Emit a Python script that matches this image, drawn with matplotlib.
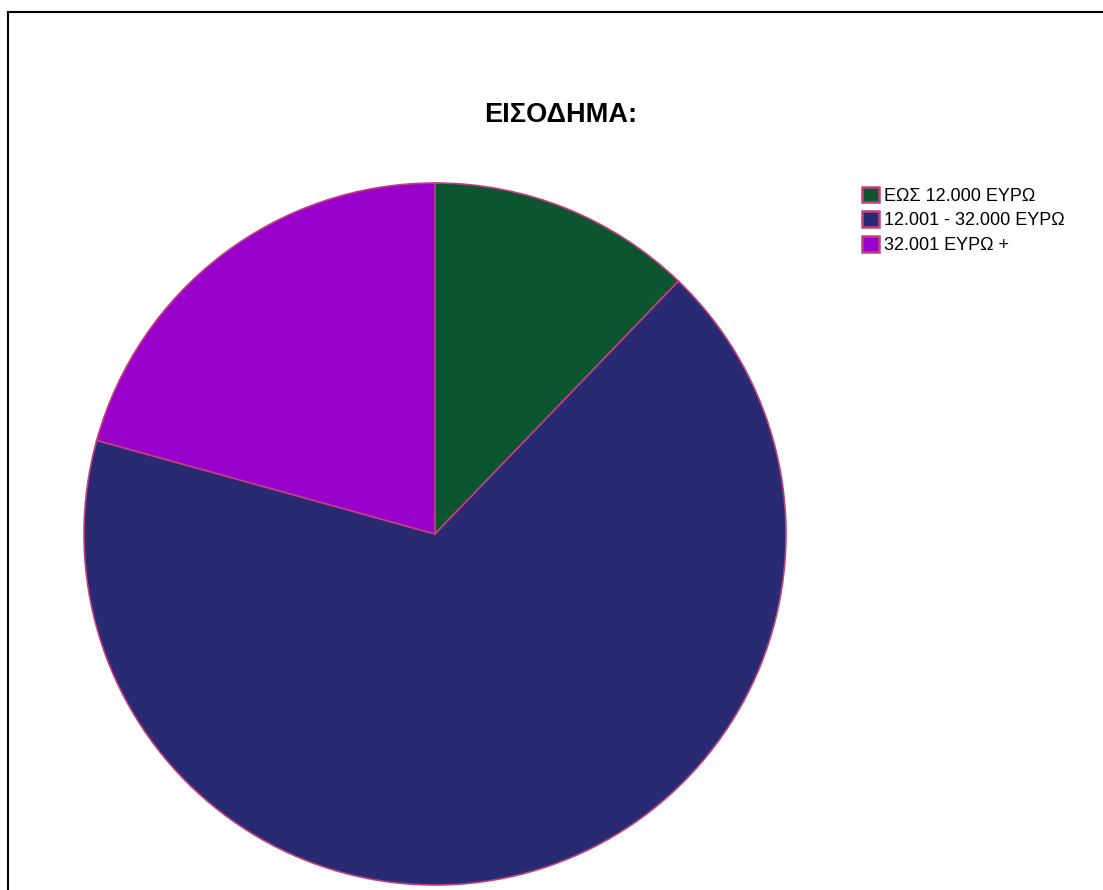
import matplotlib
matplotlib.use("Agg")
import matplotlib.pyplot as plt
from matplotlib.lines import Line2D
from matplotlib.patches import Patch

labels = ["ΕΩΣ 12.000 ΕΥΡΩ", "12.001 - 32.000 ΕΥΡΩ", "32.001 ΕΥΡΩ +"]
values = [12.2, 67.1, 20.7]
colors = ["#0b5530", "#282a72", "#9900cc"]
edge = "#c0407f"

plt.rcParams['font.family'] = ['Liberation Sans', 'DejaVu Sans']

W, H = 1103, 890
fig = plt.figure(figsize=(W / 100, H / 100), dpi=100)

# frame border
fig.add_artist(Line2D([8 / W, 8 / W], [0, 1 - 12 / H], transform=fig.transFigure, color="black", lw=1.5))
fig.add_artist(Line2D([8 / W, 1], [1 - 12 / H, 1 - 12 / H], transform=fig.transFigure, color="black", lw=1.5))

cx, cy, r = 435, 534, 351
ax = fig.add_axes([(cx - r) / W, (H - cy - r) / H, 2 * r / W, 2 * r / H])
ax.pie(values, colors=colors, startangle=90, counterclock=False,
       wedgeprops=dict(edgecolor=edge, linewidth=1.2))
ax.set_xlim(-1, 1)
ax.set_ylim(-1, 1)
ax.set_aspect("equal")
ax.axis("off")

fig.text(561 / W, 1 - 115 / H, "ΕΙΣΟΔΗΜΑ:", ha="center", va="center",
         fontsize=19.5, fontweight="bold")

handles = [Patch(facecolor=c, edgecolor=edge, linewidth=1.8) for c in colors]
fig.legend(handles, labels, loc="upper left", bbox_to_anchor=(858 / W, 1 - 183 / H),
           frameon=False, fontsize=13, handlelength=0.95, handleheight=0.95,
           handletextpad=0.3, labelspacing=0.38, borderaxespad=0, borderpad=0.2)

fig.savefig("out.png", dpi=100, facecolor="white")
